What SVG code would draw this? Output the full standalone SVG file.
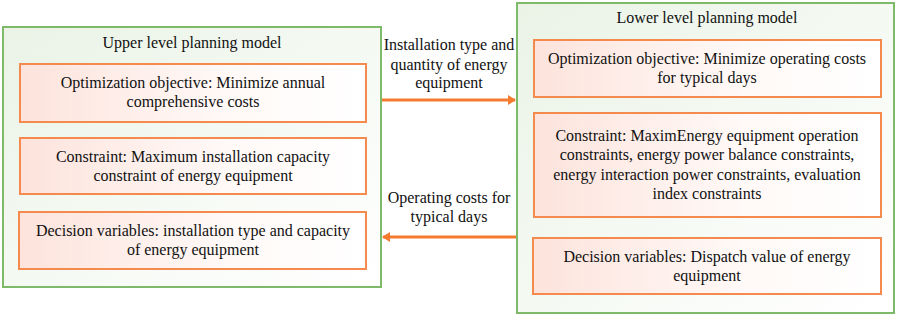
<svg xmlns="http://www.w3.org/2000/svg" width="899" height="315" viewBox="0 0 899 315">
<defs>
<linearGradient id="gOuter" x1="0" y1="0" x2="1" y2="1">
<stop offset="0" stop-color="#eaf3e6"/>
<stop offset="1" stop-color="#ffffff"/>
</linearGradient>
<linearGradient id="gInner" x1="0" y1="0" x2="1" y2="0">
<stop offset="0" stop-color="#fde3dc"/>
<stop offset="0.6" stop-color="#fff9f7"/>
<stop offset="1" stop-color="#ffffff"/>
</linearGradient>
<marker id="ah" markerWidth="8" markerHeight="10" refX="7" refY="5" orient="auto" markerUnits="userSpaceOnUse">
<path d="M0,0 L8,5 L0,10 Z" fill="#f47b30"/>
</marker>
<style>
.outer{fill:url(#gOuter);stroke:#7dbb6a;stroke-width:2}
.inner{fill:url(#gInner);stroke:#f58a4f;stroke-width:2}
.t{font-family:"Liberation Serif","Times New Roman",serif;font-size:16px;fill:#111;text-anchor:middle}
.conn{stroke:#f47b30;stroke-width:3;fill:none}
</style>
</defs>
<g id="upper">
<rect class="outer" x="3" y="27" width="378" height="260"/>
<text class="t" x="192" y="48">Upper level planning model</text>
</g>
<g id="upper-objective">
<rect class="inner" x="20" y="64" width="346" height="58"/>
<text class="t" x="193" y="88">Optimization objective: Minimize annual</text>
<text class="t" x="193" y="107">comprehensive costs</text>
</g>
<g id="upper-constraint">
<rect class="inner" x="20" y="138" width="346" height="56"/>
<text class="t" x="193" y="162">Constraint: Maximum installation capacity</text>
<text class="t" x="193" y="181">constraint of energy equipment</text>
</g>
<g id="upper-decision">
<rect class="inner" x="19" y="212" width="347" height="57"/>
<text class="t" x="193" y="236">Decision variables: installation type and capacity</text>
<text class="t" x="193" y="255">of energy equipment</text>
</g>
<g id="lower">
<rect class="outer" x="517" y="3" width="377" height="310"/>
<text class="t" x="707" y="23">Lower level planning model</text>
</g>
<g id="lower-objective">
<rect class="inner" x="534" y="40" width="347" height="57"/>
<text class="t" x="707" y="64">Optimization objective: Minimize operating costs</text>
<text class="t" x="707" y="83">for typical days</text>
</g>
<g id="lower-constraint">
<rect class="inner" x="534" y="113" width="347" height="104"/>
<text class="t" x="707" y="141">Constraint: MaximEnergy equipment operation</text>
<text class="t" x="707" y="160">constraints, energy power balance constraints,</text>
<text class="t" x="707" y="180">energy interaction power constraints, evaluation</text>
<text class="t" x="707" y="199">index constraints</text>
</g>
<g id="lower-decision">
<rect class="inner" x="533" y="238" width="348" height="56"/>
<text class="t" x="707" y="262">Decision variables: Dispatch value of energy</text>
<text class="t" x="707" y="281">equipment</text>
</g>
<g id="connectors">
<line class="conn" x1="382" y1="100" x2="515" y2="100" marker-end="url(#ah)"/>
<line class="conn" x1="516" y1="237" x2="383" y2="237" marker-end="url(#ah)"/>
<text class="t" x="449" y="50">Installation type and</text>
<text class="t" x="449" y="70">quantity of energy</text>
<text class="t" x="449" y="88">equipment</text>
<text class="t" x="449" y="203">Operating costs for</text>
<text class="t" x="449" y="222">typical days</text>
</g>
</svg>
